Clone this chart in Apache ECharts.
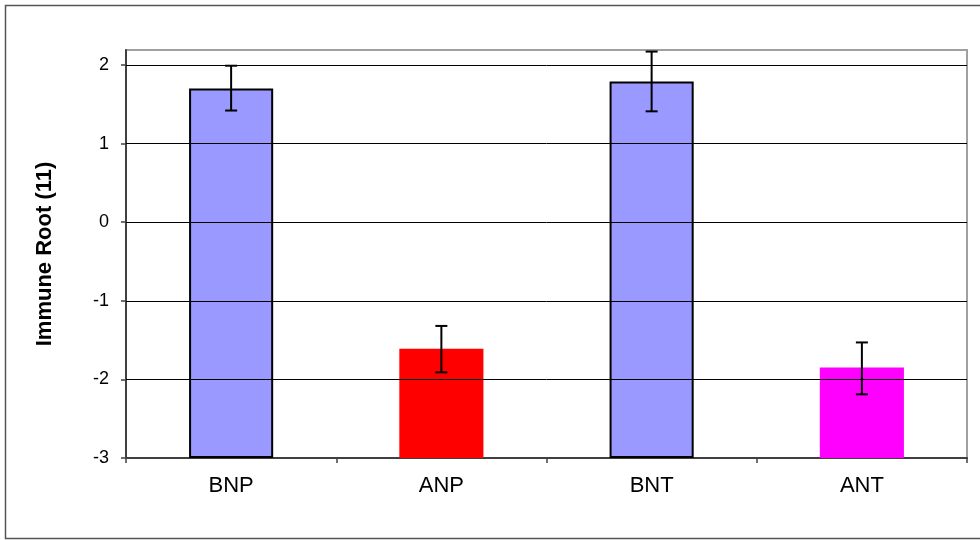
<!DOCTYPE html>
<html>
<head>
<meta charset="utf-8">
<script src="https://cdn.jsdelivr.net/npm/echarts@6/dist/echarts.min.js"></script>
<style>
  html, body { margin: 0; padding: 0; background: #ffffff; }
  #chart { width: 980px; height: 540px; }
</style>
</head>
<body>
<div id="chart"></div>
<script>
// Group labels along the x axis
const categories = ['BNP', 'ANP', 'BNT', 'ANT'];
// Mean immune root score per group
const means = [1.70, -1.61, 1.79, -1.85];
// Error bar ends (lower / upper) per group
const errLow = [1.42, -1.91, 1.41, -2.19];
const errHigh = [1.99, -1.32, 2.17, -1.53];
// Labelled y ticks and horizontal gridlines
const yTicks = [-3, -2, -1, 0, 1, 2];
const gridValues = [-2, -1, 0, 1, 2];
// Bar fill per group
const barColors = ['#9999ff', '#ff0000', '#9999ff', '#ff00ff'];
const barOutlined = [true, false, true, false];

const chart = echarts.init(document.getElementById('chart'), null, { renderer: 'canvas' });

const font = 'Liberation Sans, Arial, sans-serif';

chart.setOption({
  animation: false,
  backgroundColor: '#ffffff',
  textStyle: { fontFamily: font },
  graphic: [{
    type: 'rect',
    shape: { x: 5.5, y: 5.5, width: 990, height: 533 },
    style: { fill: 'none', stroke: '#555555', lineWidth: 1.5 },
    silent: true,
    z: 0
  }],
  grid: {
    left: 126, top: 50, right: 13, bottom: 82,
    show: true,
    borderColor: '#a0a0a0',
    borderWidth: 2,
    backgroundColor: 'transparent'
  },
  xAxis: {
    type: 'category',
    data: categories,
    boundaryGap: true,
    axisLine: { show: true, onZero: false, lineStyle: { color: '#404040', width: 2 } },
    axisTick: { show: true, alignWithLabel: false, length: 5, lineStyle: { color: '#404040', width: 1.5 } },
    axisLabel: { color: '#000000', fontSize: 22, margin: 17, fontFamily: font },
    splitLine: { show: false }
  },
  yAxis: {
    type: 'value',
    min: -3,
    max: 2.19,
    interval: 1,
    startValue: -3,
    name: 'Immune Root (11)',
    nameLocation: 'middle',
    nameGap: 70,
    nameRotate: 90,
    nameTextStyle: { color: '#000000', fontSize: 22, fontWeight: 'bold', fontFamily: font },
    axisLine: { show: true, onZero: false, lineStyle: { color: '#404040', width: 2 } },
    axisTick: { show: true, length: 5, customValues: yTicks, lineStyle: { color: '#404040', width: 1.5 } },
    axisLabel: { color: '#000000', fontSize: 18, margin: 17, customValues: yTicks, fontFamily: font },
    splitLine: { show: false }
  },
  series: [
    {
      // horizontal gridlines behind the bars
      type: 'line',
      data: [],
      silent: true,
      z: 1,
      markLine: {
        silent: true,
        symbol: 'none',
        label: { show: false },
        lineStyle: { color: '#000000', width: 1, type: 'solid' },
        data: gridValues.map(v => ({ yAxis: v }))
      }
    },
    {
      type: 'bar',
      barWidth: '40%',
      z: 2,
      data: means.map((v, i) => ({
        value: v,
        itemStyle: {
          color: barColors[i],
          borderColor: barOutlined[i] ? '#000000' : barColors[i],
          borderWidth: barOutlined[i] ? 2 : 0
        }
      }))
    },
    {
      type: 'custom',
      z: 5,
      data: categories.map((c, i) => [i, errLow[i], errHigh[i]]),
      renderItem: function (params, api) {
        const x = api.value(0);
        const lo = api.coord([x, api.value(1)]);
        const hi = api.coord([x, api.value(2)]);
        const cap = 6;
        const style = { stroke: '#000000', lineWidth: 2 };
        return {
          type: 'group',
          children: [
            { type: 'line', shape: { x1: hi[0], y1: hi[1], x2: lo[0], y2: lo[1] }, style: style },
            { type: 'line', shape: { x1: hi[0] - cap, y1: hi[1], x2: hi[0] + cap, y2: hi[1] }, style: style },
            { type: 'line', shape: { x1: lo[0] - cap, y1: lo[1], x2: lo[0] + cap, y2: lo[1] }, style: style }
          ]
        };
      }
    }
  ]
});
</script>
</body>
</html>
